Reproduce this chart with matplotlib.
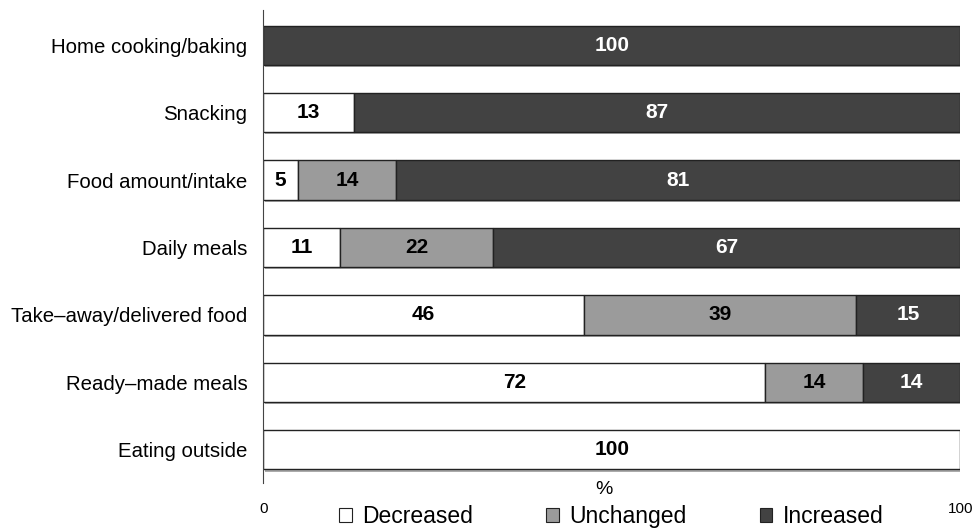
import matplotlib.pyplot as plt
import matplotlib.patheffects as pe
from matplotlib.patches import Patch
import numpy as np

plt.rcParams['font.family'] = ['Liberation Sans', 'DejaVu Sans']

categories = [
    "Home cooking/baking",
    "Snacking",
    "Food amount/intake",
    "Daily meals",
    "Take\u2013away/delivered food",
    "Ready\u2013made meals",
    "Eating outside",
]
decreased = [0, 13, 5, 11, 46, 72, 100]
unchanged = [0, 0, 14, 22, 39, 14, 0]
increased = [100, 87, 81, 67, 15, 14, 0]

series = [
    ("Decreased", decreased, "#ffffff", "black"),
    ("Unchanged", unchanged, "#9b9b9b", "black"),
    ("Increased", increased, "#424242", "white"),
]

fig = plt.figure(figsize=(9.75, 5.29), dpi=100)
ax = fig.add_axes([0.27, 0.087, 0.715, 0.894])

y = np.arange(len(categories))[::-1]
left = np.zeros(len(categories))
shadow = [pe.SimplePatchShadow(offset=(1.5, -1.5), shadow_rgbFace='#888888', alpha=0.7), pe.Normal()]

for name, vals, color, txt_color in series:
    vals = np.array(vals, dtype=float)
    bars = ax.barh(y, vals, left=left, height=0.58, color=color,
                   edgecolor='#222222', linewidth=1.0, zorder=2)
    for b, v in zip(bars, vals):
        if v == 0:
            b.set_visible(False)
            continue
        b.set_path_effects(shadow)
        ax.text(b.get_x() + v / 2, b.get_y() + b.get_height() / 2, f"{v:.0f}",
                ha='center', va='center', fontsize=15, fontweight='bold',
                color=txt_color, zorder=3)
    left += vals

ax.set_xlim(0, 100)
ax.set_ylim(-0.49, 6.52)
ax.set_yticks(y)
ax.set_yticklabels(categories, fontsize=14.7)
ax.tick_params(axis='y', length=0, pad=11.5)
ax.set_xticks([0, 100])
ax.set_xticklabels(['0', '100'], fontsize=11)
ax.tick_params(axis='x', length=0, pad=14)

for s in ['top', 'right', 'bottom']:
    ax.spines[s].set_visible(False)
ax.spines['left'].set_color('#444444')

ax.text(0.488, 0.005, '%', transform=ax.transAxes, ha='center', va='top', fontsize=14)

handles = [Patch(facecolor=c, edgecolor='#222222', linewidth=0.8, label=n) for n, _, c, _ in series]
fig.legend(handles=handles, loc='center', bbox_to_anchor=(0.627, 0.023), ncol=3,
           frameon=False, fontsize=16.5, handlelength=0.55, handleheight=0.55,
           handletextpad=0.45, columnspacing=3.2)

fig.savefig('out.png', dpi=100)
